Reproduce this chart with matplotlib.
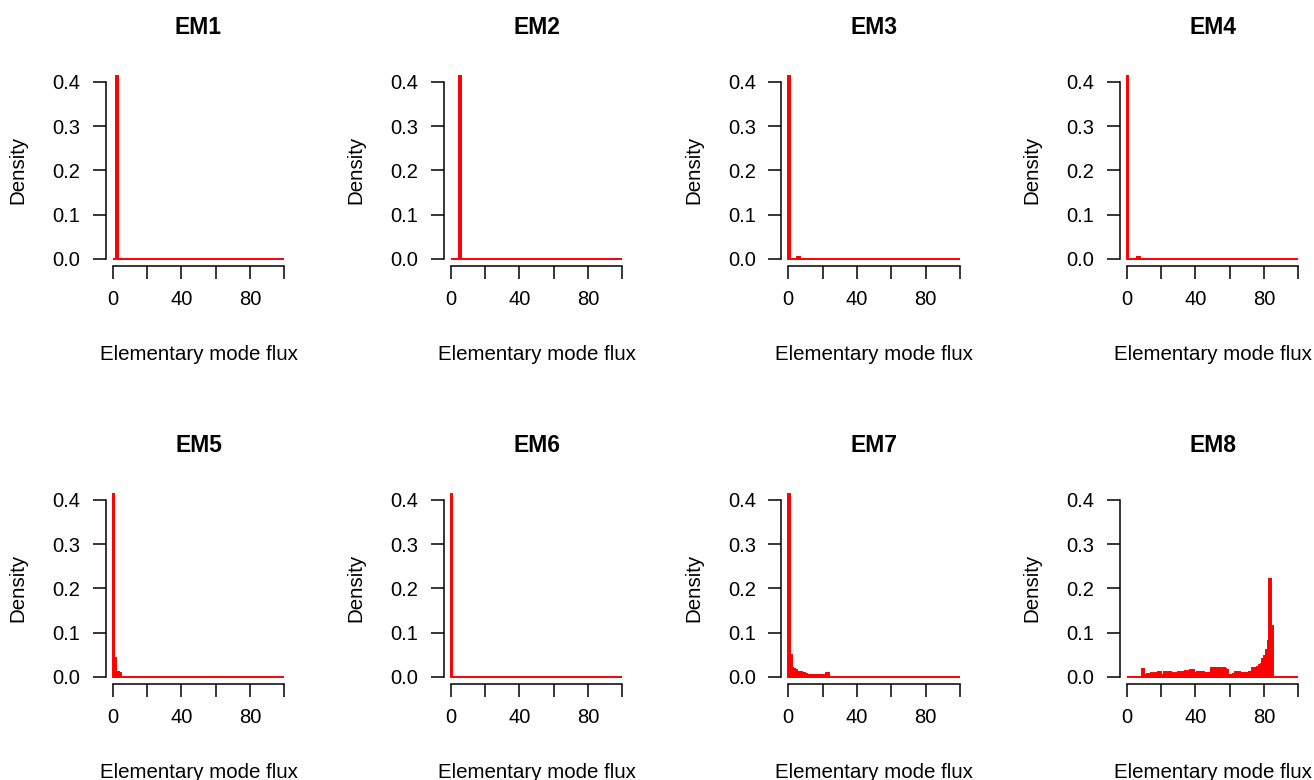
import numpy as np
import matplotlib
matplotlib.use("Agg")
import matplotlib.pyplot as plt

plt.rcParams['font.family'] = ['Liberation Sans', 'DejaVu Sans']

# Histogram densities per unit-width bin starting at flux 0 (trailing zeros omitted)
titles = ["EM1", "EM2", "EM3", "EM4", "EM5", "EM6", "EM7", "EM8"]
em1 = [0, 0, 1.0]
em2 = [0, 0, 0, 0, 0, 1.0]
em3 = [0.994, 0, 0, 0, 0, 0.003, 0.003]
em4 = [0.994, 0, 0, 0, 0, 0, 0.003, 0.003]
em5 = [0.927, 0.042, 0.011, 0.011, 0.009]
em6 = [1.0]
em7 = [0.80, 0.049, 0.019, 0.017, 0.015, 0.012, 0.011, 0.010, 0.009, 0.008,
       0.006, 0.005, 0.004, 0.005, 0.003, 0.005, 0.004, 0.003, 0.005, 0.004,
       0.004, 0.005, 0.009, 0.008]
em8 = [0, 0, 0, 0, 0, 0, 0, 0, 0, 0.018,
       0.005, 0.004, 0.006, 0.005, 0.008, 0.007, 0.008, 0.007, 0.010, 0.010,
       0.004, 0.005, 0.010, 0.009, 0.011, 0.011, 0.008, 0.007, 0.008, 0.007,
       0.010, 0.009, 0.010, 0.010, 0.013, 0.012, 0.013, 0.016, 0.016, 0.009,
       0.008, 0.012, 0.012, 0.008, 0.010, 0.009, 0.008, 0.009, 0.008, 0.019,
       0.018, 0.019, 0.014, 0.019, 0.019, 0.011, 0.021, 0.017, 0.016, 0.004,
       0.004, 0.005, 0.006, 0.011, 0.011, 0.010, 0.009, 0.008, 0.009, 0.009,
       0.008, 0.011, 0.011, 0.021, 0.020, 0.021, 0.022, 0.026, 0.030, 0.040,
       0.047, 0.060, 0.080, 0.222, 0.115]
series = [em1, em2, em3, em4, em5, em6, em7, em8]

n_bins = 100
edges = np.arange(0, n_bins + 1)
xticks = [0, 20, 40, 60, 80, 100]
xticklabels = ["0", "", "40", "", "80", ""]
yticks = [0.0, 0.1, 0.2, 0.3, 0.4]
yticklabels = ["0.0", "0.1", "0.2", "0.3", "0.4"]

W, H = 1314, 780
fig = plt.figure(figsize=(W / 100, H / 100), dpi=100)

col_left = [105.7, 443.8, 781.4, 1119.8]
ax_w = 185.5
row_top = [74.9, 492.9]
ax_h = 191.0

for i, (name, vals) in enumerate(zip(titles, series)):
    r, c = divmod(i, 4)
    left = col_left[c] / W
    bottom = 1 - (row_top[r] + ax_h) / H
    ax = fig.add_axes([left, bottom, ax_w / W, ax_h / H])
    dens = np.zeros(n_bins)
    dens[:len(vals)] = vals
    ax.bar(edges[:-1], dens, width=1, align='edge', color='red',
           edgecolor='red', linewidth=1.4)
    ax.set_xlim(-4, 104)
    ax.set_ylim(-0.016, 0.416)
    for s in ['top', 'right']:
        ax.spines[s].set_visible(False)
    ax.spines['left'].set_bounds(0, 0.4)
    ax.spines['bottom'].set_bounds(0, 100)
    for s in ['left', 'bottom']:
        ax.spines[s].set_linewidth(1.1)
    ax.set_xticks(xticks)
    ax.set_xticklabels(xticklabels)
    ax.set_yticks(yticks)
    ax.set_yticklabels(yticklabels)
    ax.tick_params(axis='both', length=9.4, width=1.1, labelsize=14.5,
                   direction='out', color='black')
    ax.tick_params(axis='x', pad=8)
    ax.tick_params(axis='y', pad=9)
    ax.set_xlabel("Elementary mode flux", fontsize=14.8)
    ax.xaxis.set_label_coords(0.5, -89 / ax_h)
    ax.xaxis.label.set_va('center')
    ax.set_ylabel("Density", fontsize=14.8)
    ax.yaxis.set_label_coords(-87.7 / ax_w, 0.5)
    ax.yaxis.label.set_va('center')
    ax.set_title(name, fontsize=16.5, fontweight='bold', y=1 + 47 / ax_h,
                 va='center', pad=0)

fig.savefig("out.png", dpi=100)
